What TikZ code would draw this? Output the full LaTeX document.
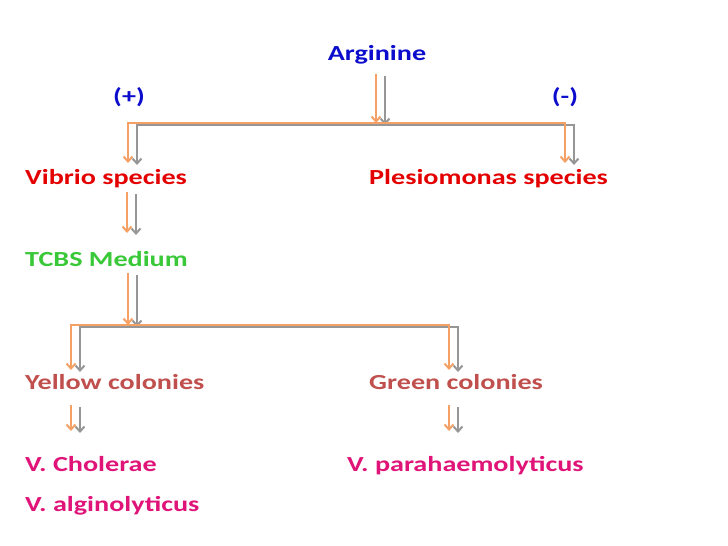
\documentclass[tikz,border=0pt]{standalone}
\usepackage{fontspec}
\usepackage{graphicx}
\setmainfont{Carlito}
\usetikzlibrary{arrows.meta}

\definecolor{argblue}{RGB}{12,12,205}
\definecolor{genred}{RGB}{228,0,0}
\definecolor{medgreen}{RGB}{56,200,56}
\definecolor{colbrown}{RGB}{192,80,77}
\definecolor{spmagenta}{RGB}{224,20,120}
\definecolor{arrorange}{RGB}{245,160,100}
\definecolor{arrgrey}{RGB}{150,150,150}

% slide text is drawn wide
\newcommand\widetxt[1]{\scalebox{1.31}[1]{#1}}

\tikzset{
  lbl/.style={font=\bfseries\fontsize{21.5}{26}\selectfont, inner sep=0pt, anchor=base west},
  org/.style={draw=arrorange, line width=2pt, -{Straight Barb[length=5pt,width=9pt]}},
  gry/.style={draw=arrgrey, line width=2pt, -{Straight Barb[length=5pt,width=9pt]},
              transform canvas={xshift=9pt,yshift=-2pt}},
  forkline/.style={{Straight Barb[length=5pt,width=9pt]}-{Straight Barb[length=5pt,width=9pt]}}
}

\begin{document}
\begin{tikzpicture}[x=1pt,y=-1pt]
\useasboundingbox (0,0) rectangle (728,546);

% labels
\node[lbl, anchor=base, text=argblue] (arg) at (377,60) {\widetxt{Arginine}};
\node[lbl, anchor=base, text=argblue] (pos) at (129,103) {\widetxt{(+)}};
\node[lbl, anchor=base, text=argblue] (neg) at (565,103) {\widetxt{(-)}};
\node[lbl, text=genred] (vib) at (25,184) {\widetxt{Vibrio species}};
\node[lbl, text=genred] (ple) at (369,184) {\widetxt{Plesiomonas species}};
\node[lbl, text=medgreen] (tcbs) at (25,266) {\widetxt{TCBS Medium}};
\node[lbl, text=colbrown] (yel) at (25,389) {\widetxt{Yellow colonies}};
\node[lbl, text=colbrown] (grn) at (369,389) {\widetxt{Green colonies}};
\node[lbl, text=spmagenta] (chol) at (25,471) {\widetxt{V. Cholerae}};
\node[lbl, text=spmagenta] (para) at (347,471) {\widetxt{V. parahaemolyticus}};
\node[lbl, text=spmagenta] (algi) at (25,511) {\widetxt{V. alginolyticus}};

% arrow ends
\coordinate (argtop) at (376,74);
\coordinate (fork1) at (376,123);
\coordinate (fork1l) at (128,123);
\coordinate (fork1r) at (565,123);
\coordinate (vibtip) at (128,163);
\coordinate (pletip) at (565,163);
\coordinate (vibbot) at (127,192);
\coordinate (tcbstip) at (127,233);
\coordinate (tcbsbot) at (128,273);
\coordinate (fork2) at (128,325);
\coordinate (fork2l) at (71,325);
\coordinate (fork2r) at (449,325);
\coordinate (yeltip) at (71,370);
\coordinate (grntip) at (449,370);
\coordinate (yelbot) at (71,405);
\coordinate (choltip) at (71,431);
\coordinate (grnbot) at (449,405);
\coordinate (paratip) at (449,431);

% grey shadows first
\draw[gry] (argtop) -- (fork1);
\draw[gry, forkline] (vibtip) -- (fork1l) -- (fork1r) -- (pletip);
\draw[gry] (vibbot) -- (tcbstip);
\draw[gry] (tcbsbot) -- (fork2);
\draw[gry, forkline] (yeltip) -- (fork2l) -- (fork2r) -- (grntip);
\draw[gry] (yelbot) -- (choltip);
\draw[gry] (grnbot) -- (paratip);

% orange on top
\draw[org] (argtop) -- (fork1);
\draw[org, forkline] (vibtip) -- (fork1l) -- (fork1r) -- (pletip);
\draw[org] (vibbot) -- (tcbstip);
\draw[org] (tcbsbot) -- (fork2);
\draw[org, forkline] (yeltip) -- (fork2l) -- (fork2r) -- (grntip);
\draw[org] (yelbot) -- (choltip);
\draw[org] (grnbot) -- (paratip);

\end{tikzpicture}
\end{document}
